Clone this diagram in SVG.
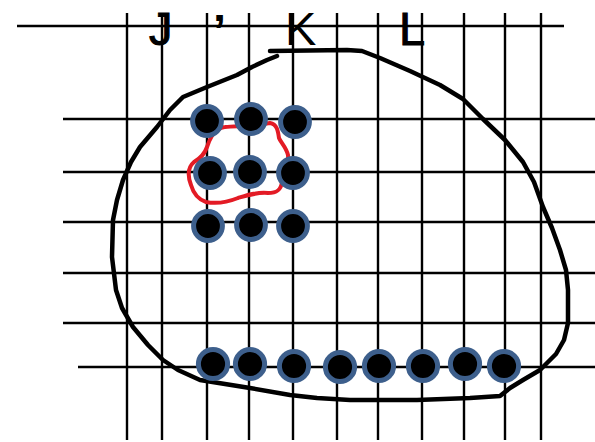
<svg xmlns="http://www.w3.org/2000/svg" width="595" height="442" viewBox="0 0 595 442">
<style>
.g{stroke:#000;stroke-width:2.4;fill:none}
.dot{fill:#000;stroke:#3D5F8C;stroke-width:5}
.lbl{font-family:"Liberation Sans",Arial,sans-serif;font-size:47px;fill:#000}
</style>
<rect width="595" height="442" fill="#fff"/>
<g id="grid" class="g">
<line x1="17" y1="26" x2="564" y2="26"/>
<line x1="63" y1="119" x2="595" y2="119"/>
<line x1="63" y1="172" x2="595" y2="172"/>
<line x1="63" y1="222" x2="595" y2="222"/>
<line x1="63" y1="273" x2="595" y2="273"/>
<line x1="63" y1="323" x2="595" y2="323"/>
<line x1="78" y1="367" x2="595" y2="367"/>
<line x1="127" y1="13" x2="127" y2="440"/>
<line x1="162" y1="13" x2="162" y2="440"/>
<line x1="207" y1="13" x2="207" y2="440"/>
<line x1="249" y1="13" x2="249" y2="440"/>
<line x1="293" y1="13" x2="293" y2="440"/>
<line x1="337" y1="13" x2="337" y2="440"/>
<line x1="378" y1="13" x2="378" y2="440"/>
<line x1="422" y1="13" x2="422" y2="440"/>
<line x1="464" y1="13" x2="464" y2="440"/>
<line x1="505" y1="13" x2="505" y2="440"/>
<line x1="541" y1="13" x2="541" y2="440"/>
</g>
<g id="labels">
<text class="lbl" x="149" y="45" stroke="#000" stroke-width="1">J</text>
<text class="lbl" x="213" y="47" font-size="56" font-weight="bold">’</text>
<text class="lbl" x="285" y="45">K</text>
<text class="lbl" x="399" y="45" stroke="#000" stroke-width="1">L</text>
</g>
<g id="connectors">
<polyline id="outline" fill="none" stroke="#000" stroke-width="4.5" stroke-linejoin="round" stroke-linecap="round" points="270,51 347,50 362,51 380,58 410,71 440,85 463,99 483,119 505,140 523,162 534,182 543,207 552,228 560,250 566,270 568,290 568,323 564,340 556,354 540,370 523,380 510,388 500,396 470,398 417,400 350,400 317,398 290,395 250,388 200,380 178,370 163,360 148,345 133,327 122,308 116,290 112,257 113,220 117,200 123,180 131,162 140,147 157,127 170,110 183,97 207,87 237,75 252,67 267,60 277,56"/>
<path id="redloop" fill="none" stroke="#E31B25" stroke-width="4" stroke-linejoin="round" d="M225,127 C240,126 258,125 270,123 C277,124 278,131 279,138 C281,143 286,147 288,155 C289,163 283,172 282,182 C281,190 277,193 268,193 C257,192 248,195 238,198 C228,202 216,204 206,202 C197,199 193,192 191,185 C188,177 187,168 194,162 C201,158 205,153 207,147 C209,141 213,133 217,130 C220,128 222,127 225,127 Z"/>
</g>
<g id="n1"><circle class="dot" cx="207" cy="121" r="14.4"/></g>
<g id="n2"><circle class="dot" cx="251" cy="119" r="14.4"/></g>
<g id="n3"><circle class="dot" cx="295" cy="122" r="14.4"/></g>
<g id="n4"><circle class="dot" cx="210" cy="173" r="14.4"/></g>
<g id="n5"><circle class="dot" cx="250" cy="172" r="14.4"/></g>
<g id="n6"><circle class="dot" cx="293" cy="173" r="14.4"/></g>
<g id="n7"><circle class="dot" cx="208" cy="226" r="14.4"/></g>
<g id="n8"><circle class="dot" cx="251" cy="225" r="14.4"/></g>
<g id="n9"><circle class="dot" cx="293" cy="226" r="14.4"/></g>
<g id="b1"><circle class="dot" cx="213" cy="364" r="14.6"/></g>
<g id="b2"><circle class="dot" cx="250" cy="364" r="14.6"/></g>
<g id="b3"><circle class="dot" cx="294" cy="366" r="14.6"/></g>
<g id="b4"><circle class="dot" cx="340" cy="367" r="14.6"/></g>
<g id="b5"><circle class="dot" cx="379" cy="366" r="14.6"/></g>
<g id="b6"><circle class="dot" cx="423" cy="366" r="14.6"/></g>
<g id="b7"><circle class="dot" cx="465" cy="364" r="14.6"/></g>
<g id="b8"><circle class="dot" cx="504" cy="366" r="14.6"/></g>
</svg>
